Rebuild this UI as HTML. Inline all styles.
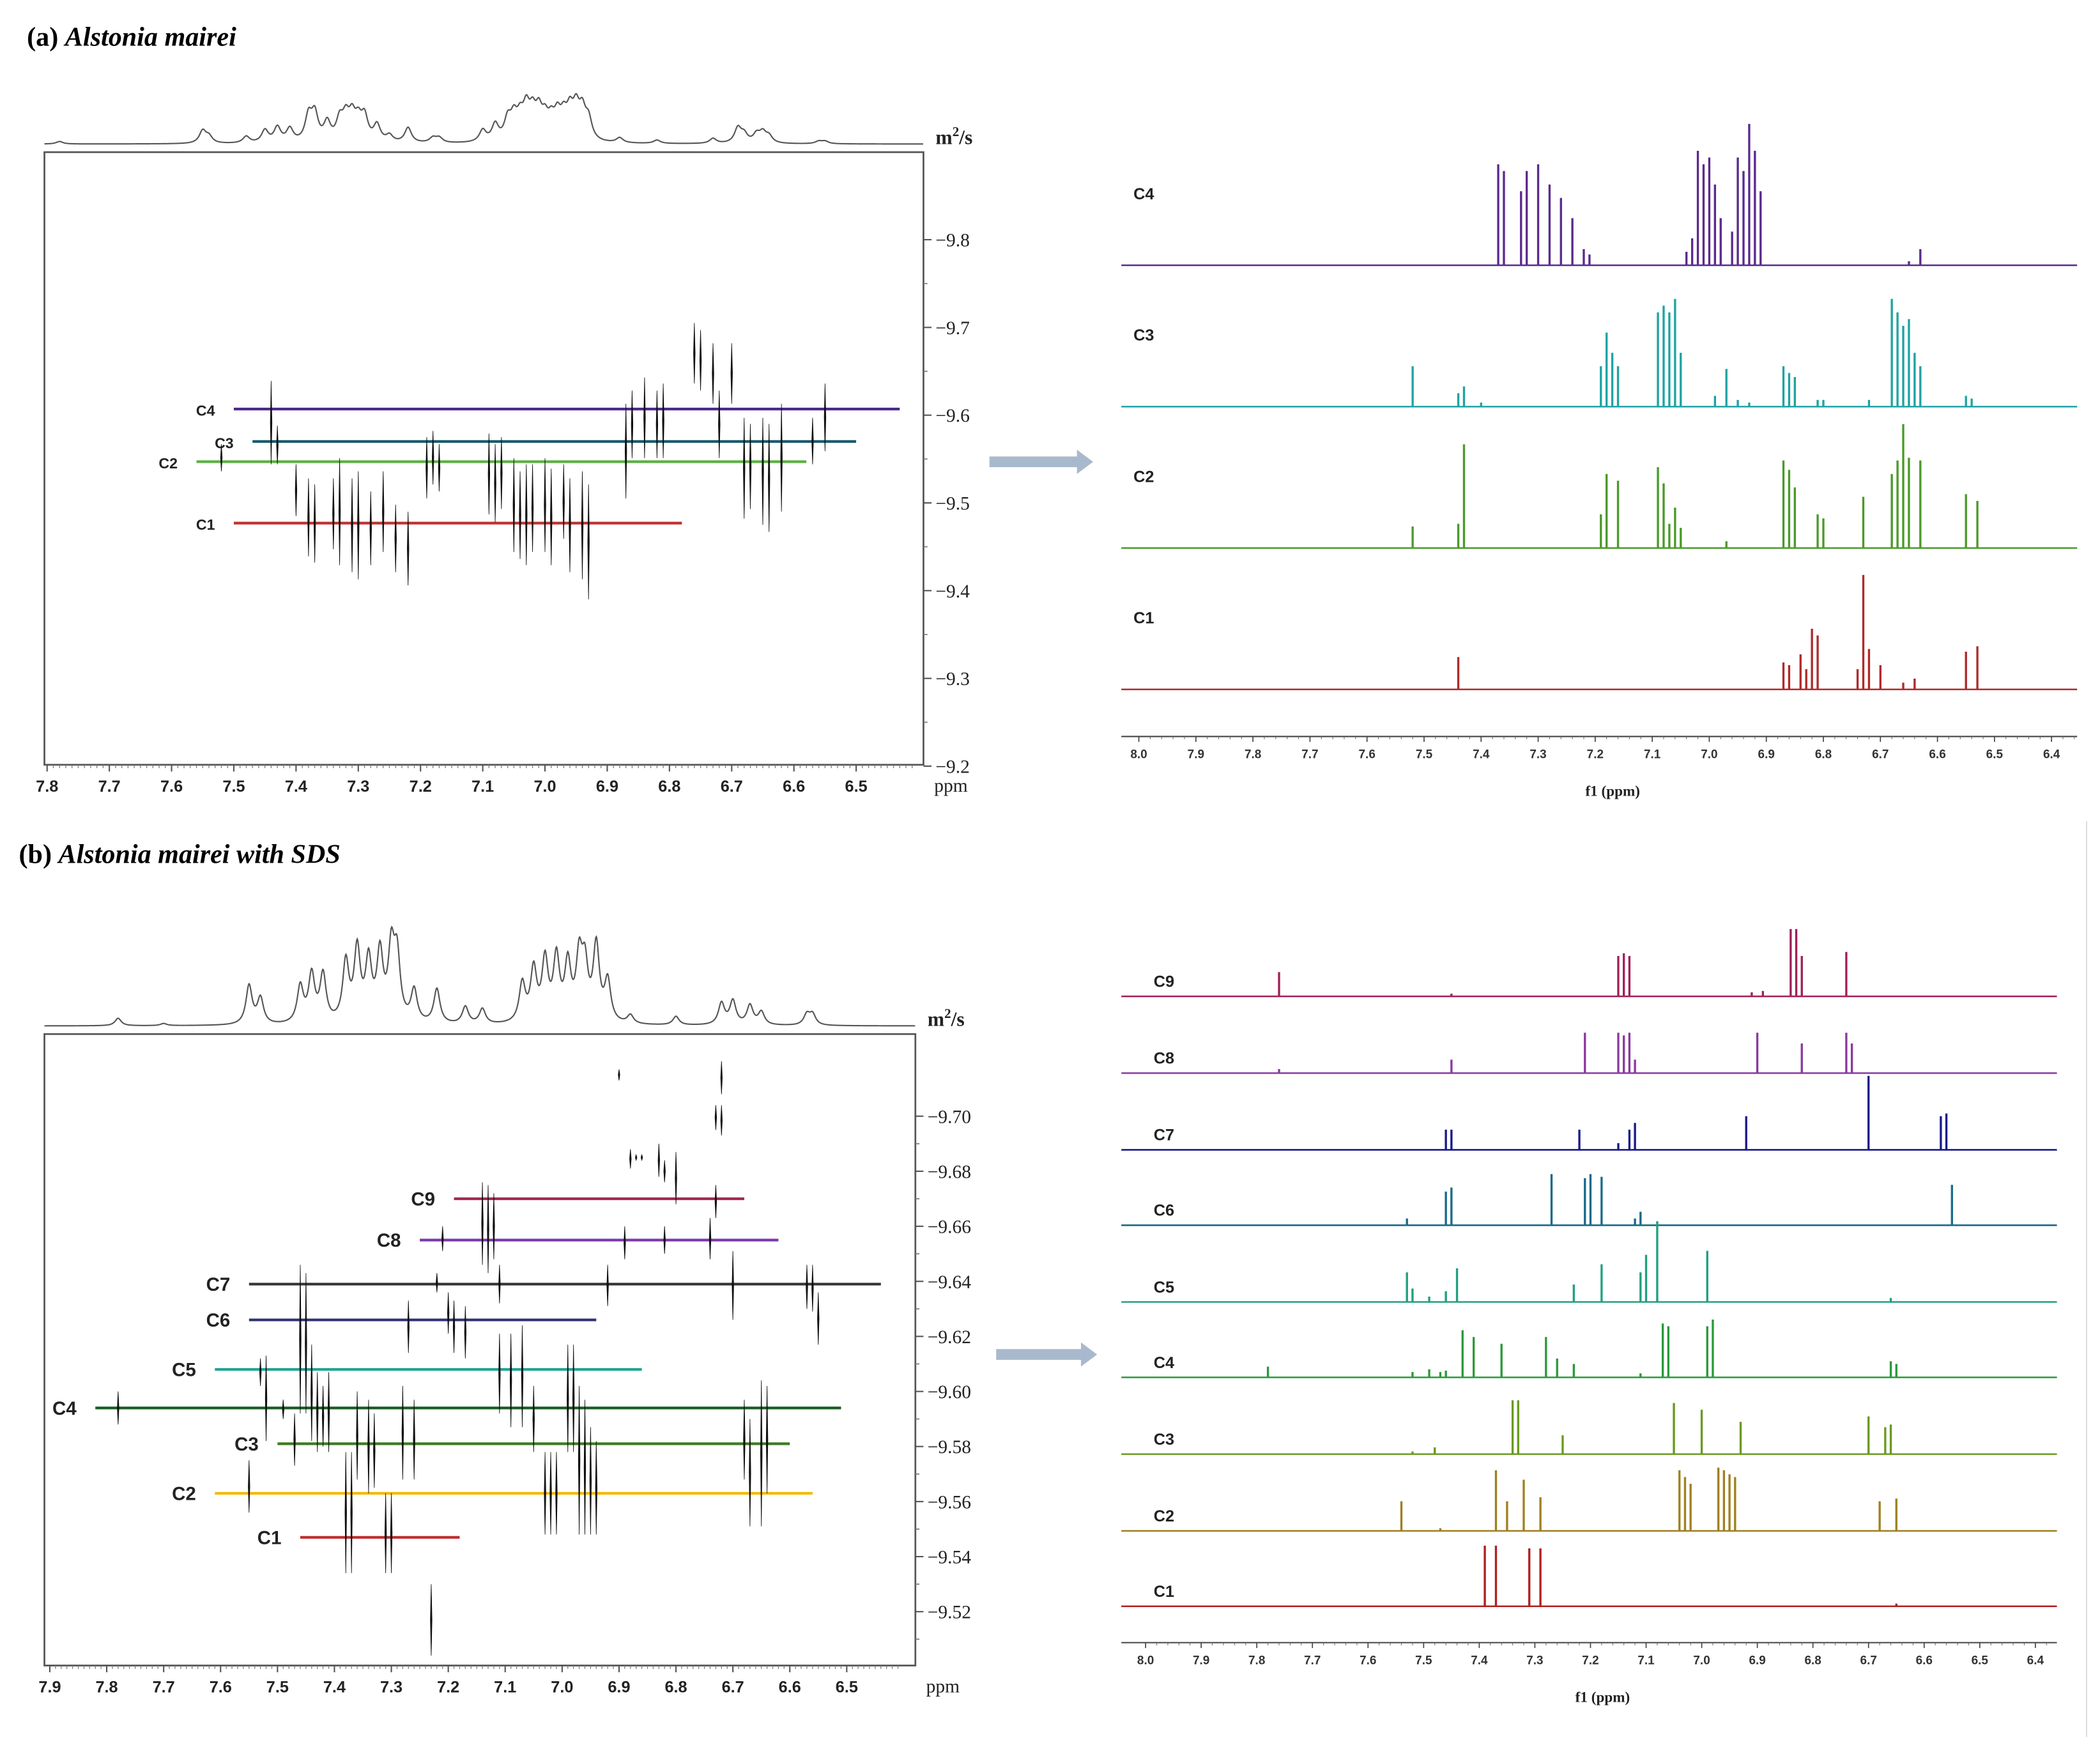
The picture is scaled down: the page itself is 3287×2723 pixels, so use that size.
<!DOCTYPE html>
<html><head><meta charset="utf-8"><style>
html,body{margin:0;padding:0;background:#fff;}
svg{display:block;}
</style></head><body>
<svg id="fig" xmlns="http://www.w3.org/2000/svg" width="3287" height="2723" viewBox="0 0 1560 1292.3">
<rect x="0" y="0" width="1560" height="1292.3" fill="#fff"/>
<text x="20" y="34" font-family="Liberation Serif, serif" font-size="20" font-weight="bold">(a) <tspan font-style="italic">Alstonia mairei</tspan></text>
<text x="14" y="641" font-family="Liberation Serif, serif" font-size="20" font-weight="bold">(b) <tspan font-style="italic">Alstonia mairei with SDS</tspan></text>
<line x1="1550" y1="610" x2="1550" y2="1290" stroke="#ddd" stroke-width="1"/>
<g id="g"></g>
</svg>
<script>
// ---------- Panel (a) data ----------
const aTraceP = [7.78,7.55,7.54,7.48,7.45,7.43,7.41,7.38,7.37,7.35,7.33,7.32,7.31,7.30,7.29,7.27,7.25,7.22,7.18,7.17,7.10,7.08,7.06,7.05,7.04,7.03,7.02,7.01,7.00,6.99,6.98,6.97,6.96,6.95,6.94,6.93,6.88,6.82,6.73,6.69,6.68,6.66,6.65,6.64,6.56,6.55];
const aTraceH = [3,15,8,8,15,18,16,30,32,22,24,26,27,22,28,20,8,18,6,6,14,20,24,25,23,34,28,30,22,20,26,24,30,34,32,24,6,4,6,18,10,10,12,8,3,3];
const aDosyPpm = [7.52,7.44,7.43,7.40,7.38,7.37,7.34,7.33,7.31,7.30,7.28,7.26,7.24,7.22,7.19,7.18,7.17,7.09,7.08,7.07,7.05,7.04,7.03,7.02,7.00,6.99,6.97,6.96,6.94,6.93,6.87,6.86,6.84,6.82,6.81,6.76,6.75,6.73,6.72,6.70,6.68,6.67,6.65,6.64,6.62,6.57,6.55];
const aDosyTop = [-9.567,-9.639,-9.588,-9.544,-9.528,-9.521,-9.528,-9.551,-9.528,-9.536,-9.513,-9.536,-9.498,-9.490,-9.575,-9.582,-9.567,-9.579,-9.567,-9.575,-9.551,-9.536,-9.544,-9.544,-9.551,-9.539,-9.544,-9.528,-9.536,-9.521,-9.613,-9.628,-9.643,-9.628,-9.636,-9.705,-9.697,-9.682,-9.628,-9.682,-9.597,-9.590,-9.597,-9.590,-9.613,-9.597,-9.636];
const aDosyBot = [-9.536,-9.544,-9.544,-9.485,-9.439,-9.432,-9.447,-9.429,-9.421,-9.413,-9.429,-9.444,-9.421,-9.406,-9.505,-9.521,-9.513,-9.487,-9.478,-9.493,-9.444,-9.436,-9.429,-9.444,-9.444,-9.429,-9.459,-9.421,-9.413,-9.390,-9.505,-9.551,-9.551,-9.551,-9.551,-9.636,-9.628,-9.613,-9.551,-9.613,-9.482,-9.493,-9.475,-9.467,-9.490,-9.544,-9.559];
const aComps = ['C4','C3','C2','C1'];
const aCompD = [-9.607,-9.570,-9.547,-9.477];
const aCompFrom = [7.50,7.47,7.56,7.50];
const aCompTo = [6.43,6.50,6.58,6.78];
const aLineColors = ['#4b2a8c','#1a5c6e','#5cb043','#c03030'];
const aSpecColors = ['#5b2a8c','#1fa3a3','#4a9a2a','#b02a2a'];
const aSpecP = [
 [7.37,7.36,7.33,7.32,7.30,7.28,7.26,7.24,7.22,7.21,7.04,7.03,7.02,7.01,7.00,6.99,6.98,6.96,6.95,6.94,6.93,6.92,6.91,6.65,6.63],
 [7.52,7.44,7.43,7.40,7.19,7.18,7.17,7.16,7.09,7.08,7.07,7.06,7.05,6.99,6.97,6.95,6.93,6.87,6.86,6.85,6.81,6.80,6.72,6.68,6.67,6.66,6.65,6.64,6.63,6.55,6.54],
 [7.52,7.44,7.43,7.19,7.18,7.16,7.09,7.08,7.07,7.06,7.05,6.97,6.87,6.86,6.85,6.81,6.80,6.73,6.68,6.67,6.66,6.65,6.63,6.55,6.53],
 [7.44,6.87,6.86,6.84,6.83,6.82,6.81,6.74,6.73,6.72,6.70,6.66,6.64,6.55,6.53]
];
const aSpecH = [
 [75,70,55,70,75,60,50,35,12,8,10,20,85,75,80,60,35,25,80,70,105,85,55,3,12],
 [30,10,15,3,30,55,40,30,70,75,70,80,40,8,28,5,3,30,25,22,5,5,5,80,70,60,65,40,30,8,6],
 [16,18,77,25,55,50,60,48,18,30,15,5,65,58,45,25,22,38,55,65,92,67,65,40,35],
 [24,20,18,26,15,45,40,15,85,30,18,5,8,28,32]
];
// ---------- Panel (b) data ----------
const bTraceP = [7.78,7.70,7.55,7.53,7.46,7.44,7.42,7.38,7.36,7.34,7.32,7.30,7.29,7.26,7.22,7.17,7.14,7.07,7.05,7.03,7.01,6.99,6.97,6.96,6.94,6.92,6.88,6.80,6.72,6.70,6.67,6.65,6.57,6.56];
const bTraceH = [7,2,36,24,34,44,44,55,66,55,62,64,58,30,32,16,14,36,48,56,58,52,56,48,70,38,8,8,20,22,18,12,10,10];
const bDosyPpm = [6.90,6.72,6.73,6.72,6.88,6.87,6.86,6.83,6.82,6.80,6.73,7.14,7.13,7.12,7.21,6.89,6.82,6.74,7.46,7.45,7.44,7.22,7.11,6.92,6.70,6.57,6.56,6.55,7.27,7.20,7.19,7.17,7.53,7.52,7.49,7.47,7.43,7.42,7.41,7.36,7.34,7.33,7.28,7.26,7.11,7.09,7.07,7.05,7.03,7.02,7.01,6.99,6.98,6.97,6.96,6.95,6.94,6.68,6.67,6.65,6.64,7.78,7.55,7.38,7.37,7.31,7.30,7.23];
const bDosyTop = [-9.717,-9.720,-9.704,-9.704,-9.688,-9.686,-9.686,-9.690,-9.684,-9.687,-9.675,-9.676,-9.675,-9.672,-9.660,-9.660,-9.660,-9.663,-9.646,-9.643,-9.617,-9.643,-9.646,-9.646,-9.651,-9.646,-9.646,-9.636,-9.633,-9.636,-9.633,-9.631,-9.612,-9.613,-9.597,-9.592,-9.607,-9.602,-9.607,-9.600,-9.597,-9.592,-9.602,-9.597,-9.621,-9.621,-9.624,-9.602,-9.578,-9.578,-9.578,-9.617,-9.617,-9.602,-9.597,-9.587,-9.582,-9.597,-9.590,-9.604,-9.602,-9.600,-9.575,-9.578,-9.578,-9.563,-9.563,-9.530];
const bDosyBot = [-9.713,-9.708,-9.695,-9.693,-9.681,-9.684,-9.684,-9.678,-9.676,-9.668,-9.663,-9.646,-9.643,-9.648,-9.651,-9.648,-9.650,-9.648,-9.592,-9.592,-9.582,-9.636,-9.632,-9.631,-9.626,-9.630,-9.629,-9.617,-9.614,-9.621,-9.614,-9.612,-9.602,-9.582,-9.590,-9.573,-9.578,-9.580,-9.578,-9.568,-9.563,-9.565,-9.568,-9.568,-9.592,-9.587,-9.587,-9.578,-9.548,-9.548,-9.548,-9.578,-9.578,-9.548,-9.548,-9.548,-9.548,-9.568,-9.551,-9.551,-9.563,-9.588,-9.556,-9.534,-9.534,-9.534,-9.534,-9.504];
const bComps = ['C9','C8','C7','C6','C5','C4','C3','C2','C1'];
const bCompD = [-9.670,-9.655,-9.639,-9.626,-9.608,-9.594,-9.581,-9.563,-9.547];
const bCompFrom = [7.19,7.25,7.55,7.55,7.61,7.82,7.50,7.61,7.46];
const bCompTo = [6.68,6.62,6.44,6.94,6.86,6.51,6.60,6.56,7.18];
const bLineColors = ['#a02a50','#7a3aa8','#333','#2e3270','#22a596','#1a5a22','#3d7a22','#f5b800','#c03030'];
const bSpecColors = ['#a0205a','#8a3aa0','#1a1a8a','#1a6a8a','#20a080','#2a9a3a','#6a9a20','#a08020','#b02020'];
const bSpecP = [
 [7.76,7.45,7.15,7.14,7.13,6.91,6.89,6.84,6.83,6.82,6.74],
 [7.76,7.45,7.21,7.15,7.14,7.13,7.12,6.90,6.82,6.74,6.73],
 [7.46,7.45,7.22,7.15,7.13,7.12,6.92,6.70,6.57,6.56],
 [7.53,7.46,7.45,7.27,7.21,7.20,7.18,7.12,7.11,6.55],
 [7.53,7.52,7.49,7.46,7.44,7.23,7.18,7.11,7.10,7.08,6.99,6.66],
 [7.78,7.52,7.49,7.47,7.46,7.43,7.41,7.36,7.28,7.26,7.23,7.11,7.07,7.06,6.99,6.98,6.66,6.65],
 [7.52,7.48,7.34,7.33,7.25,7.05,7.00,6.93,6.70,6.67,6.66],
 [7.54,7.47,7.37,7.35,7.32,7.29,7.04,7.03,7.02,6.97,6.96,6.95,6.94,6.68,6.65],
 [7.39,7.37,7.31,7.29,6.65]
];
const bSpecH = [
 [18,2,30,32,30,3,4,50,50,30,33],
 [3,10,30,30,28,30,10,30,22,30,22],
 [15,15,15,5,15,20,25,55,25,27],
 [5,25,28,38,35,38,36,5,10,30],
 [22,10,4,8,25,13,28,22,35,60,38,3],
 [8,4,6,4,5,35,30,25,30,14,10,3,40,38,38,43,12,10],
 [2,5,40,40,14,38,33,24,28,20,22],
 [22,2,45,22,38,25,45,40,35,47,45,42,40,22,24],
 [45,45,43,43,2]
];
const aTicksX = [7.8,7.7,7.6,7.5,7.4,7.3,7.2,7.1,7.0,6.9,6.8,6.7,6.6,6.5];
const aTicksY = [-9.8,-9.7,-9.6,-9.5,-9.4,-9.3,-9.2];
const bTicksX = [7.9,7.8,7.7,7.6,7.5,7.4,7.3,7.2,7.1,7.0,6.9,6.8,6.7,6.6,6.5];
const bTicksY = [-9.70,-9.68,-9.66,-9.64,-9.62,-9.60,-9.58,-9.56,-9.54,-9.52];
const specTicks = [8.0,7.9,7.8,7.7,7.6,7.5,7.4,7.3,7.2,7.1,7.0,6.9,6.8,6.7,6.6,6.5,6.4];

const NS='http://www.w3.org/2000/svg';
const G=document.getElementById('g');
function mk(tag,attrs,parent){const e=document.createElementNS(NS,tag);for(const k in attrs)e.setAttribute(k,attrs[k]);(parent||G).appendChild(e);return e;}
function txt(x,y,s,size,extra,parent){const e=mk('text',Object.assign({x:x,y:y,'font-family':'Liberation Sans, sans-serif','font-size':size},extra||{}),parent);e.textContent=s;return e;}

function dosyPanel(cfg){
  const {x0,x1,y0,y1,px,py,traceBase,traceP,traceH,ticksX,ticksY,dp,dt,db,comps,cd,cf,ct,lc,yfmt,pre}=cfg;
  const g=mk('g',{});
  
  
  let d='';
  for(let x=x0;x<=x1;x+=0.4){
    const ppm=px.inv(x);let s=0;
    for(let i=0;i<traceP.length;i++){const w=0.0065;const u=(ppm-traceP[i])/w;s+=traceH[i]/(1+u*u);}
    d+=(d?'L':'M')+x.toFixed(1)+','+(traceBase-s*cfg.tscale).toFixed(2);
  }
  const tr=mk('path',{d:d,fill:'none',stroke:'#555','stroke-width':1},g);
  
  
  const box=mk('rect',{x:x0,y:y0,width:x1-x0,height:y1-y0,fill:'none',stroke:'#555','stroke-width':1.3},g);
  
  
  ticksX.forEach(t=>{const x=px(t);mk('line',{x1:x,y1:y1,x2:x,y2:y1+5,stroke:'#555','stroke-width':1},g);
    for(let k=1;k<10;k++){const xm=px(t-k*0.01);if(xm<x1)mk('line',{x1:xm,y1:y1,x2:xm,y2:y1+2.5,stroke:'#777','stroke-width':0.6},g);}
    const l=txt(x,y1+20,t.toFixed(1),12,{'text-anchor':'middle','font-weight':'bold',fill:'#222'},g);
    
    });
  ticksY.forEach(t=>{const y=py(t);mk('line',{x1:x1,y1:y,x2:x1+6,y2:y,stroke:'#555','stroke-width':1},g);
    const l=txt(x1+9,y+5,'\u2212'+Math.abs(t).toFixed(yfmt),14,{'font-family':'Liberation Serif, serif',fill:'#222'},g);
    
    });
  const yspan=ticksY[1]-ticksY[0];
  for(let i=0;i<ticksY.length;i++){const ym=py(ticksY[i]+yspan/2);if(ym<y1&&ym>y0)mk('line',{x1:x1,y1:ym,x2:x1+3,y2:ym,stroke:'#777','stroke-width':0.8},g);}
  const ppmL=txt(x1+8,y1+20,'ppm',14,{'font-family':'Liberation Serif, serif',fill:'#222'},g);
  
  
  const mu=mk('text',{x:x1+9,y:y0-6,'font-family':'Liberation Serif, serif','font-size':15,'font-weight':'bold',fill:'#222'},g);
  mu.innerHTML='m<tspan dy="-6" font-size="10">2</tspan><tspan dy="6">/s</tspan>';
  
  
  comps.forEach((c,i)=>{const y=py(cd[i]);
    const ln=mk('line',{x1:px(cf[i]),y1:y,x2:px(ct[i]),y2:y,stroke:lc[i],'stroke-width':2},g);
    
    
    const lb=txt(px(cf[i])-14,y+5,c,cfg.lsize,{'text-anchor':'end','font-weight':'bold',fill:'#222'},g);
    
    });
  dp.forEach((p,i)=>{const x=px(p),ya=py(dt[i]),yb=py(db[i]);
    const pk=mk('path',{d:`M${x},${ya}L${x+0.6},${(ya+yb)/2}L${x},${yb}L${x-0.6},${(ya+yb)/2}Z`,fill:'#111',stroke:'#111','stroke-width':0.4},g);
    
    });
}
function mkScale(a,b,v0,v1){const f=v=>a+(v-v0)*(b-a)/(v1-v0);f.inv=x=>v0+(x-a)*(v1-v0)/(b-a);return f;}

function specPanel(cfg){
  const {x0,x1,axisY,px,bases,P,H,colors,names,pre,labX,ticks}=cfg;
  const g=mk('g',{});
  
  
  names.forEach((n,i)=>{const b=bases[i];
    const bl=mk('line',{x1:x0,y1:b,x2:x1,y2:b,stroke:colors[i],'stroke-width':1.2},g);
    
    
    P[i].forEach((p,j)=>{const x=px(p);
      const pk=mk('line',{x1:x,y1:b,x2:x,y2:b-H[i][j],stroke:colors[i],'stroke-width':1.6},g);
      
      });
    const lb=txt(labX,b-cfg.labOff,n,12,{'font-weight':'bold',fill:'#222'},g);
    
    });
  const ax=mk('line',{x1:x0,y1:axisY,x2:x1,y2:axisY,stroke:'#444','stroke-width':1},g);
  
  
  ticks.forEach(t=>{const x=px(t);mk('line',{x1:x,y1:axisY,x2:x,y2:axisY+4,stroke:'#444','stroke-width':0.8},g);
    for(let k=1;k<5;k++){const xm=px(t-k*0.02);if(xm<x1)mk('line',{x1:xm,y1:axisY,x2:xm,y2:axisY+2,stroke:'#666','stroke-width':0.5},g);}
    const l=txt(x,axisY+16,t.toFixed(1),9,{'text-anchor':'middle','font-weight':'bold',fill:'#333'},g);
    
    });
  const t=txt((x0+x1)/2+10,axisY+44,'f1 (ppm)',11,{'text-anchor':'middle','font-weight':'bold',fill:'#222','font-family':'Liberation Serif, serif'},g);
  
  
}
function arrow(x0,x1,y,name){const a=mk('path',{d:`M${x0},${y-4}L${x1-12},${y-4}L${x1-12},${y-9}L${x1},${y}L${x1-12},${y+9}L${x1-12},${y+4}L${x0},${y+4}Z`,fill:'#a9b9cd'});
  
  }

const apx=mkScale(35,636,7.8,6.5), apy=mkScale(178,569,-9.8,-9.2);
dosyPanel({x0:33,x1:686,y0:113,y1:568,px:apx,py:apy,traceBase:107,tscale:0.62,traceP:aTraceP,traceH:aTraceH,ticksX:aTicksX,ticksY:aTicksY,dp:aDosyPpm,dt:aDosyTop,db:aDosyBot,comps:aComps,cd:aCompD,cf:aCompFrom,ct:aCompTo,lc:aLineColors,yfmt:1,pre:'a-',lsize:11});
const aspx=mkScale(846,1524,8.0,6.4);
specPanel({x0:833,x1:1543,axisY:547,px:aspx,bases:[197,302,407,512],P:aSpecP,H:aSpecH,colors:aSpecColors,names:aComps,pre:'a-',labX:842,labOff:49,ticks:specTicks});
arrow(735,812,343,'a-arrow');
const bpx=mkScale(37,629,7.9,6.5), bpy=mkScale(829,1197,-9.70,-9.52);
dosyPanel({x0:33,x1:680,y0:768,y1:1237,px:bpx,py:bpy,traceBase:762,tscale:0.8,traceP:bTraceP,traceH:bTraceH,ticksX:bTicksX,ticksY:bTicksY,dp:bDosyPpm,dt:bDosyTop,db:bDosyBot,comps:bComps,cd:bCompD,cf:bCompFrom,ct:bCompTo,lc:bLineColors,yfmt:2,pre:'b-',lsize:14});
const bspx=mkScale(851,1512,8.0,6.4);
specPanel({x0:833,x1:1528,axisY:1220,px:bspx,bases:[740,797,854,910,967,1023,1080,1137,1193],P:bSpecP,H:bSpecH,colors:bSpecColors,names:bComps,pre:'b-',labX:857,labOff:7,ticks:specTicks});
arrow(740,815,1006,'b-arrow');
</script>
</body></html>
